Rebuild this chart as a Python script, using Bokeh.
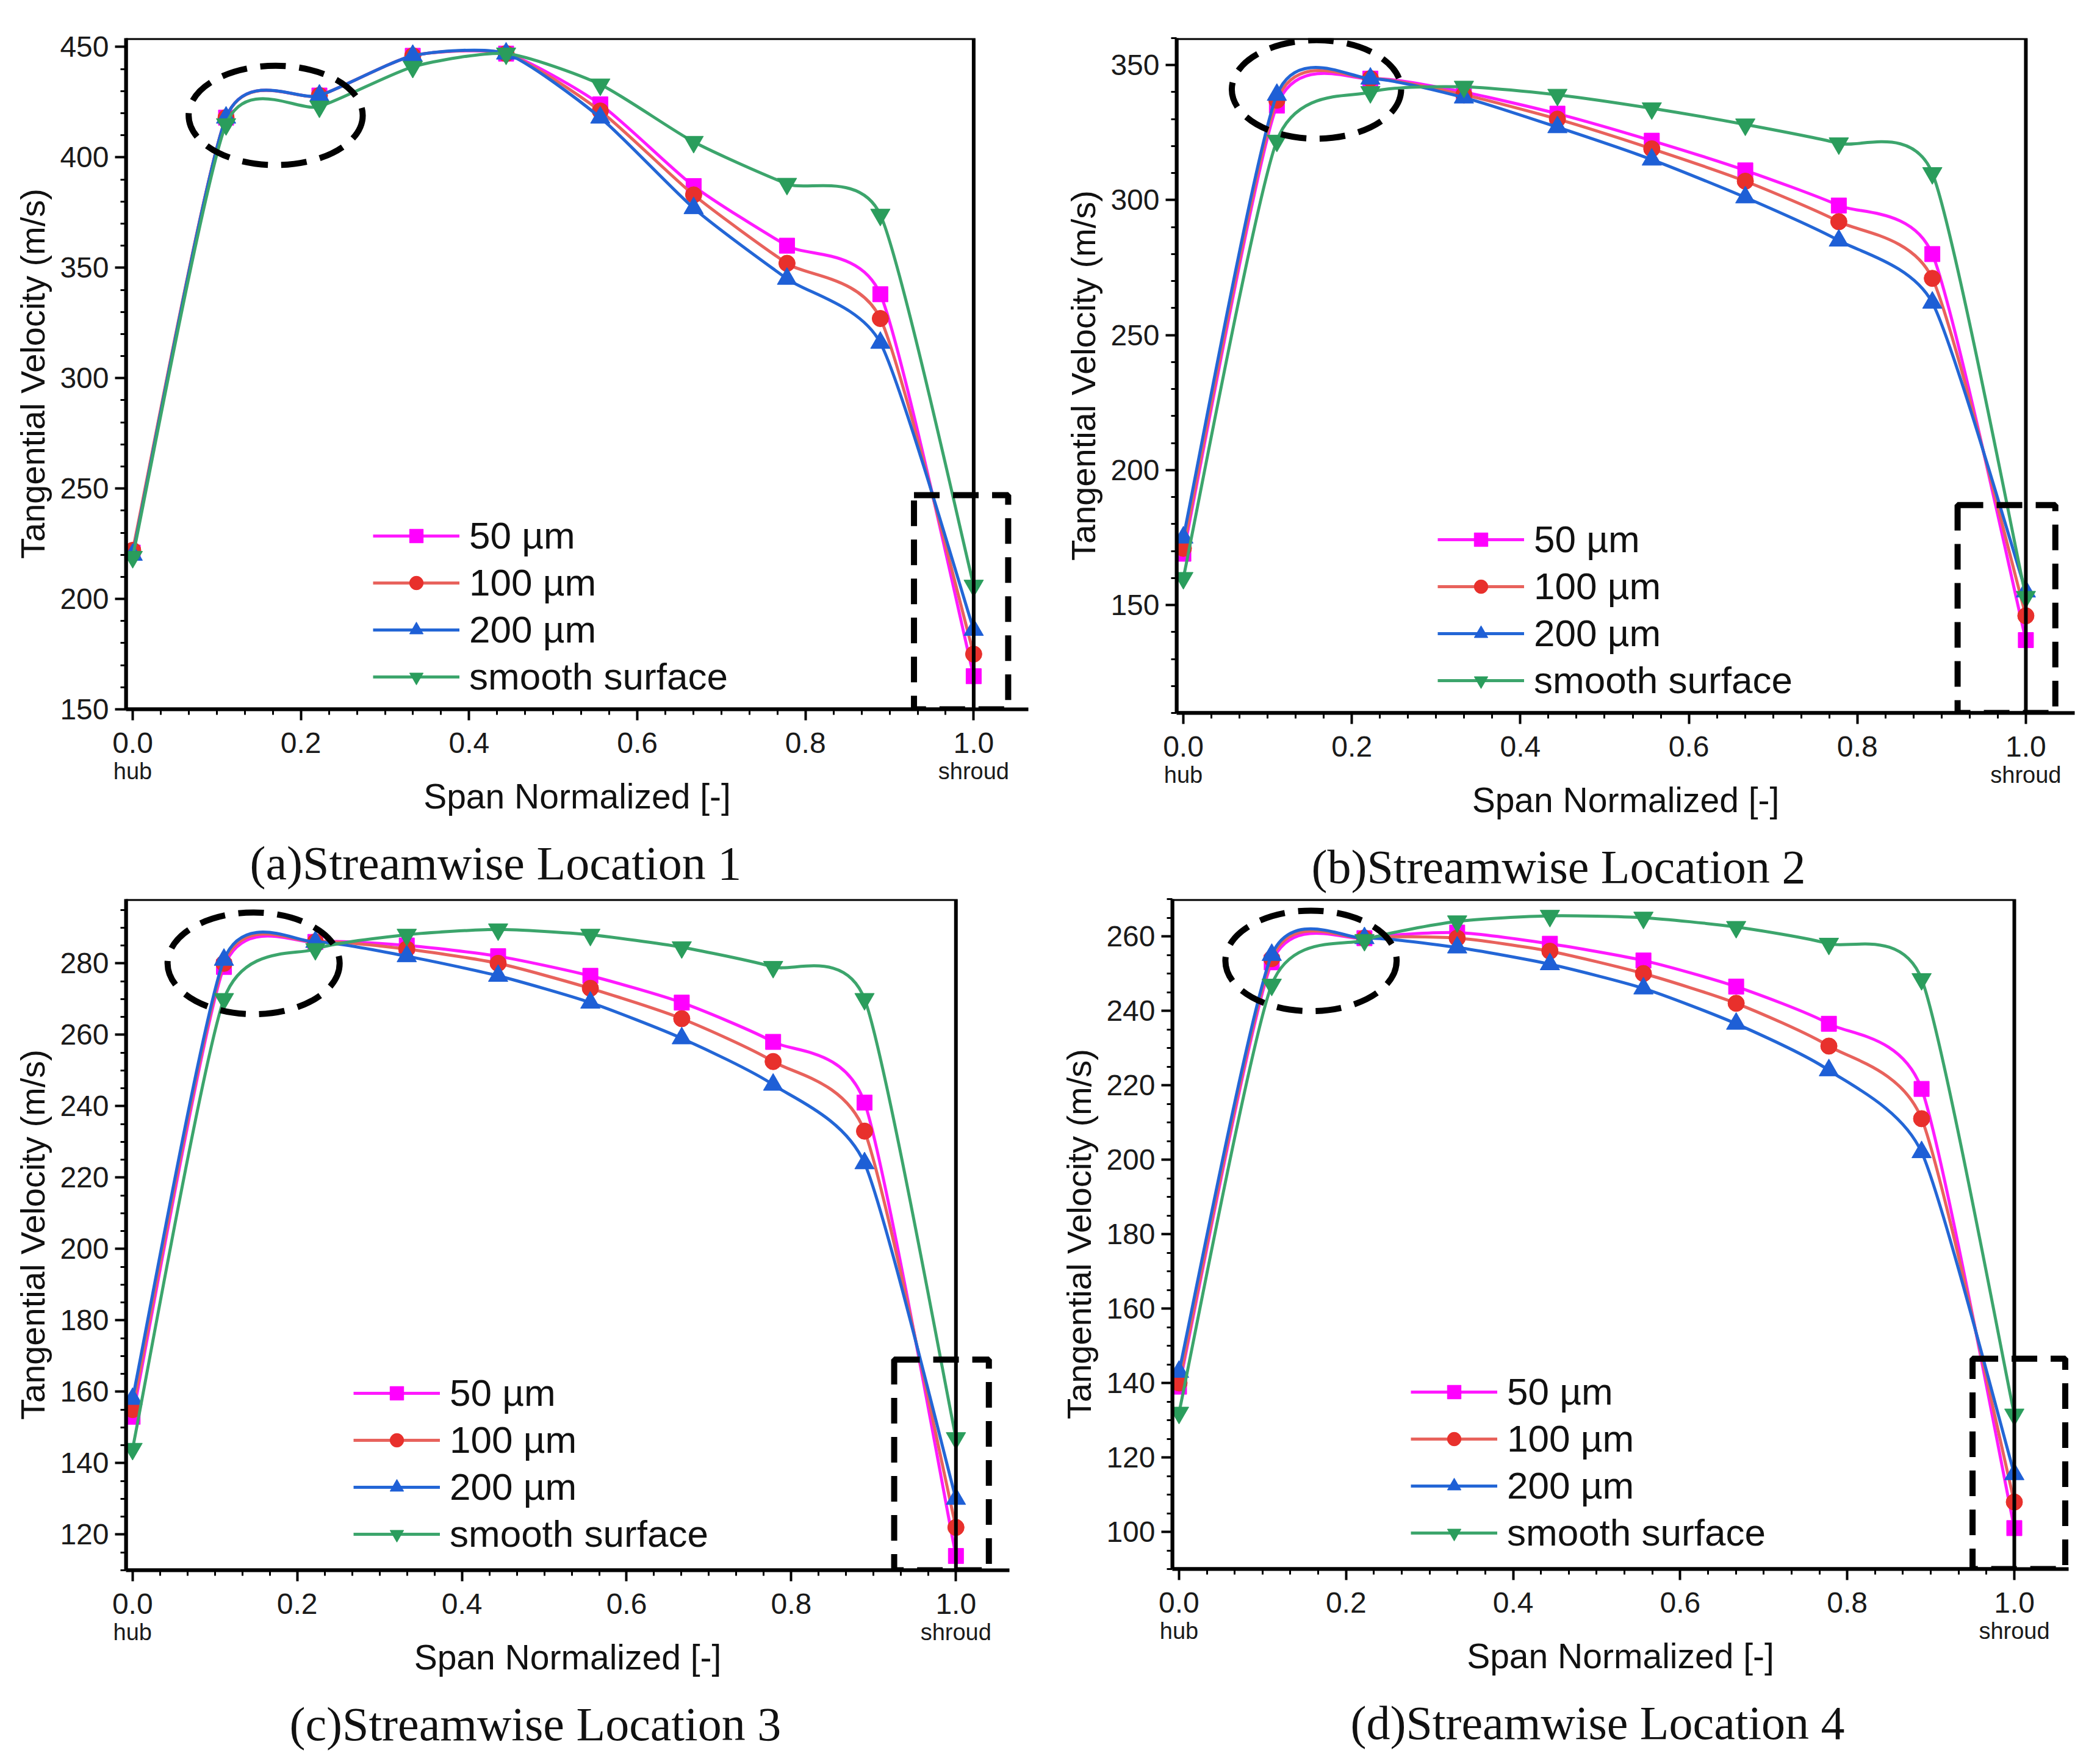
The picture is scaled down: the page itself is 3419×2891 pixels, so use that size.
import numpy as np
from bokeh.embed import file_html
from bokeh.layouts import column, row
from bokeh.models import (BoxAnnotation, ColumnDataSource, FixedTicker, Legend, LegendItem,
                          LinearAxis, NumeralTickFormatter, Range1d, SingleIntervalTicker, Title)
from bokeh.plotting import figure
from bokeh.resources import INLINE

# normalised span positions of the ten sample points (hub -> shroud)
span = [0.0, 0.111, 0.222, 0.333, 0.444, 0.556, 0.667, 0.778, 0.889, 1.0]
series_names = ["50 \u00b5m", "100 \u00b5m", "200 \u00b5m", "smooth surface"]

# tangential velocity (m/s)
loc1_50 = [221, 418, 428, 446, 447, 424, 387, 360, 338, 165]
loc1_100 = [222, 418, 428, 446, 447, 421, 383, 352, 327, 175]
loc1_200 = [220, 418, 428, 446, 447, 418, 377, 345, 316, 186]
loc1_smooth = [219, 415, 423, 441, 447, 433, 407, 388, 374, 206]

loc2_50 = [169, 335, 345, 340, 332, 322, 311, 298, 280, 137]
loc2_100 = [171, 337, 345, 339, 330, 319, 307, 292, 271, 146]
loc2_200 = [175, 339, 345, 338, 327, 315, 301, 285, 262, 155]
loc2_smooth = [160, 322, 340, 342, 339, 334, 328, 321, 310, 153]

loc3_50 = [153, 279, 286, 285, 282, 276.5, 269, 258, 241, 114]
loc3_100 = [155, 280, 286, 284, 280, 273, 264.5, 252.5, 233, 122]
loc3_200 = [158, 281, 286, 282, 276.5, 269, 259, 246, 224, 130]
loc3_smooth = [144, 270, 284, 288, 289.5, 288, 284.5, 279, 270, 147]

loc4_50 = [139, 253, 259.5, 261, 258, 253.5, 246.5, 236.5, 219, 101]
loc4_100 = [140, 254, 259.5, 259.5, 256, 250, 242, 230.5, 211, 108]
loc4_200 = [143, 255, 259.5, 257, 252.5, 246, 236.5, 224, 202, 115.5]
loc4_smooth = [132, 247, 259, 264, 265.5, 265, 262.5, 258, 248.5, 131.5]

# dashed call-outs: ellipse (x, y, width, height) and box (left, right, bottom, top)
ellipse_1 = [0.17, 419, 0.207, 45]
ellipse_2 = [0.158, 341, 0.201, 36.5]
ellipse_3 = [0.147, 280, 0.209, 28.5]
ellipse_4 = [0.158, 253.4, 0.205, 27]
box_1 = [0.929, 1.041, 150, 247]
box_2 = [0.919, 1.035, 110, 187]
box_3 = [0.925, 1.040, 110, 169]
box_4 = [0.950, 1.061, 90, 146.5]

line_colors = ["#ff1aff", "#e8625c", "#2366d6", "#3ca56c"]
marker_colors = ["#ff00ff", "#e8302c", "#1e5fd6", "#2a9d5c"]
markers = ["square", "circle", "triangle", "inverted_triangle"]
marker_sizes = [25, 27, 32, 32]

SANS = "Liberation Sans"
SERIF = "Liberation Serif"
X_START = -0.008


def bezier_parts(xs, ys, k=0.65):
    xs = np.asarray(xs, float)
    ys = np.asarray(ys, float)
    xp = np.concatenate([[xs[0]], xs, [xs[-1]]])
    yp = np.concatenate([[ys[0]], ys, [ys[-1]]])
    n = len(xs) - 1
    d = dict(x0=xs[:-1], y0=ys[:-1], x1=xs[1:], y1=ys[1:])
    d["cx0"] = xs[:-1] + k * (xp[2:n + 2] - xp[0:n]) / 6
    d["cy0"] = ys[:-1] + k * (yp[2:n + 2] - yp[0:n]) / 6
    d["cx1"] = xs[1:] - k * (xp[3:n + 3] - xp[1:n + 1]) / 6
    d["cy1"] = ys[1:] - k * (yp[3:n + 3] - yp[1:n + 1]) / 6
    return ColumnDataSource(d)


def make_panel(series, ellipse, box, y_lim, y_step, y_minor, caption, lay):
    p = figure(frame_width=lay["fw"], frame_height=lay["fh"], output_backend="svg",
               toolbar_location=None,
               x_range=Range1d(X_START, lay["xe"]), y_range=Range1d(*y_lim),
               min_border_left=lay["bl"], min_border_right=lay["br"],
               min_border_top=lay["bt"], min_border_bottom=lay["bb"])
    p.grid.visible = False
    p.outline_line_color = None
    p.background_fill_color = "white"
    p.border_fill_color = "white"

    # plot box closes at span = 1.0
    p.add_layout(BoxAnnotation(left=X_START, right=1.0, bottom=y_lim[0], top=y_lim[1],
                               fill_alpha=0, line_color="black", line_alpha=1, line_width=6))

    items = []
    for name, vals, lc, mc, mk, ms in zip(series_names, series, line_colors,
                                          marker_colors, markers, marker_sizes):
        r_line = p.bezier(x0="x0", y0="y0", x1="x1", y1="y1", cx0="cx0", cy0="cy0",
                          cx1="cx1", cy1="cy1", source=bezier_parts(span, vals),
                          line_color=lc, line_width=5)
        r_pt = p.scatter(span, vals, marker=mk, size=ms, fill_color=mc, line_color=mc)
        items.append(LegendItem(label=name, renderers=[r_line, r_pt]))

    ex, ey, ew, eh = ellipse
    p.ellipse(x=[ex], y=[ey], width=[ew], height=[eh], fill_color=None,
              line_color="black", line_width=10, line_dash="42 22")
    bl, br, bb, bt = box
    p.quad(left=[bl], right=[br], bottom=[bb], top=[bt], fill_color=None,
           line_color="black", line_width=10, line_dash="42 22")

    legend = Legend(items=items, location=lay["legend"], margin=0, padding=0,
                    border_line_color=None, background_fill_alpha=0,
                    glyph_width=142, glyph_height=56, spacing=6, label_standoff=16,
                    label_text_font=SANS, label_text_font_size="62px", label_text_color="#111111")
    p.add_layout(legend)

    # axes
    xa = p.xaxis[0]
    xa.ticker = FixedTicker(ticks=[0.0, 0.2, 0.4, 0.6, 0.8, 1.0],
                            minor_ticks=list(np.arange(0, 1.0001, 1 / 30)))
    xa.formatter = NumeralTickFormatter(format="0.0")
    ya = p.yaxis[0]
    ya.ticker = SingleIntervalTicker(interval=y_step, num_minor_ticks=y_minor)
    ya.axis_label = "Tangential Velocity (m/s)"
    ya.axis_label_standoff = 10
    for ax in (xa, ya):
        ax.axis_line_color = "black"
        ax.axis_line_width = 6
        ax.major_tick_line_color = "black"
        ax.major_tick_line_width = 4
        ax.major_tick_out = 18
        ax.major_tick_in = 0
        ax.minor_tick_line_color = "black"
        ax.minor_tick_line_width = 3
        ax.minor_tick_out = 9
        ax.minor_tick_in = 0
        ax.major_label_text_font = SANS
        ax.major_label_text_font_size = "48px"
        ax.major_label_text_color = "#1a1a1a"
        ax.axis_label_text_font = SANS
        ax.axis_label_text_font_size = "56px"
        ax.axis_label_text_font_style = "normal"
        ax.axis_label_text_color = "#111111"
    xa.major_label_standoff = 20
    ya.major_label_standoff = 10

    hub = LinearAxis(ticker=FixedTicker(ticks=[0, 1]),
                     major_label_overrides={0: "hub", 1: "shroud"},
                     axis_line_color=None, major_tick_line_color=None,
                     minor_tick_line_color=None, major_label_standoff=0,
                     major_label_text_font=SANS, major_label_text_font_size="38px",
                     major_label_text_color="#1a1a1a",
                     axis_label="Span Normalized [-]", axis_label_standoff=-15,
                     axis_label_text_font=SANS, axis_label_text_font_size="57px",
                     axis_label_text_font_style="normal", axis_label_text_color="#111111")
    p.add_layout(hub, "below")

    # blank title used only as a gap between the axis title and the caption
    p.add_layout(Title(text="\u00a0", text_font_size="13px", standoff=0), "below")

    p.add_layout(Title(text=caption, align="left", offset=lay["cap"], standoff=24,
                       text_font=SERIF, text_font_size="78px", text_font_style="normal",
                       text_color="#111111"), "below")
    return p


lay_a = dict(fw=1479, fh=1100, bl=206, br=5, bt=62, bb=200, xe=1.065, legend=(405, 18), cap=203)
lay_b = dict(fw=1472, fh=1106, bl=238, br=3, bt=48, bb=313, xe=1.058, legend=(428, 18), cap=221)
lay_c = dict(fw=1448, fh=1100, bl=206, br=36, bt=4, bb=200, xe=1.065, legend=(373, 24), cap=268)
lay_d = dict(fw=1469, fh=1098, bl=231, br=13, bt=3, bb=200, xe=1.065, legend=(391, 24), cap=292)

pa = make_panel([loc1_50, loc1_100, loc1_200, loc1_smooth], ellipse_1, box_1, (150, 454), 50, 5,
                "(a)Streamwise Location 1", lay_a)
pb = make_panel([loc2_50, loc2_100, loc2_200, loc2_smooth], ellipse_2, box_2, (110, 360), 50, 5,
                "(b)Streamwise Location 2", lay_b)
pc = make_panel([loc3_50, loc3_100, loc3_200, loc3_smooth], ellipse_3, box_3, (110, 298), 20, 4,
                "(c)Streamwise Location 3", lay_c)
pd_ = make_panel([loc4_50, loc4_100, loc4_200, loc4_smooth], ellipse_4, box_4, (90, 270), 20, 4,
                 "(d)Streamwise Location 4", lay_d)

layout = column(row(pa, pb), row(pc, pd_))
open("out.html", "w").write(file_html(layout, INLINE))
